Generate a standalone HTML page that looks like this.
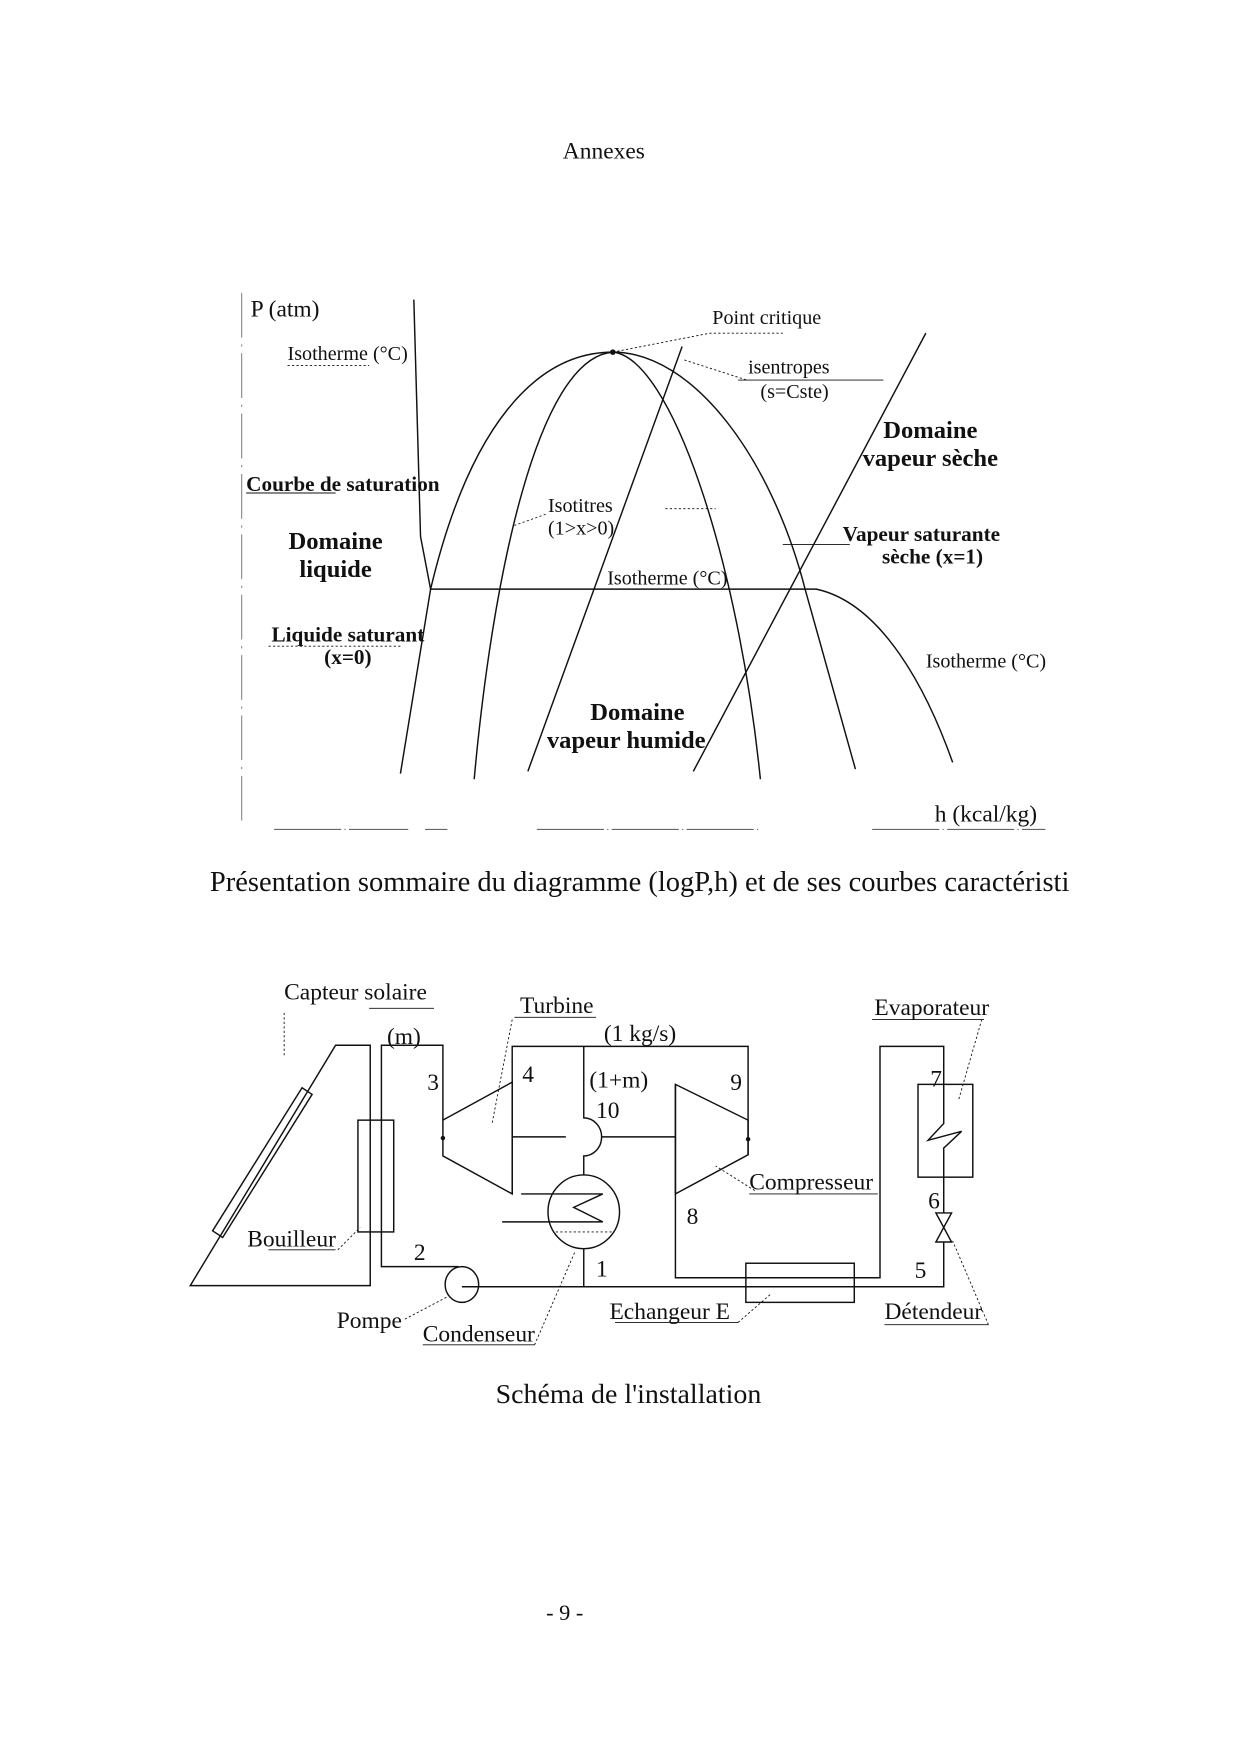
<!DOCTYPE html>
<html><head><meta charset="utf-8"><style>
html,body{margin:0;padding:0;background:#fff;}
svg{display:block}
text{font-family:"Liberation Serif",serif;fill:#111}
.b{font-weight:bold}
</style></head><body>
<svg width="1248" height="1754" viewBox="0 0 1116 1569" xmlns="http://www.w3.org/2000/svg">
<text x="540" y="142" font-size="21" text-anchor="middle">Annexes</text>

<!-- Chart -->
<g stroke="#111" fill="none" stroke-width="1.3">
<line x1="216" y1="262" x2="216" y2="740" stroke="#888" stroke-width="1" stroke-dasharray="40 6 2 6"/>
<path d="M245,742 H365 M380,742 H400 M480,742 H680 M780,742 H935" stroke="#666" stroke-width="1" stroke-dasharray="60 3 1 3"/>
<path d="M358,692 L385,527 C420,380 480,315 548,315 C620,315 690,410 720,527 L765,688"/>
<path d="M424,697 C440,520 480,320 548,315 C600,320 660,500 680,697"/>
<path d="M370,268 L376,480 L385,527 L730,527 C790,540 830,620 852,682"/>
<line x1="472" y1="690" x2="610" y2="310"/>
<line x1="620" y1="690" x2="828" y2="298"/>
<g stroke-width="0.8" stroke-dasharray="2 2">
<path d="M548,315 L635,298 H700"/>
<path d="M612,322 L668,340"/>
<path d="M488,460 L460,470"/>
<path d="M595,455 H640"/>
<path d="M257,327 H330"/>
<path d="M240,578 H360"/>
</g>
<path d="M660,340 H790" stroke-width="0.8"/>
<path d="M700,487 H760" stroke-width="0.8"/>
<path d="M220,441 H300" stroke-width="0.8"/>
</g>
<circle cx="548" cy="315" r="2.5" fill="#111"/>
<text x="224" y="283" font-size="21">P (atm)</text>
<text x="257" y="322" font-size="18">Isotherme (°C)</text>
<text x="637" y="290" font-size="18">Point critique</text>
<text x="669" y="334" font-size="18">isentropes</text>
<text x="680" y="356" font-size="18">(s=Cste)</text>
<text x="832" y="392" font-size="22" class="b" text-anchor="middle">Domaine</text>
<text x="832" y="417" font-size="22" class="b" text-anchor="middle">vapeur sèche</text>
<text x="220" y="439" font-size="19" class="b">Courbe de saturation</text>
<text x="490" y="458" font-size="18">Isotitres</text>
<text x="490" y="478" font-size="18">(1&gt;x&gt;0)</text>
<text x="300" y="491" font-size="22" class="b" text-anchor="middle">Domaine</text>
<text x="300" y="516" font-size="22" class="b" text-anchor="middle">liquide</text>
<text x="824" y="484" font-size="19" class="b" text-anchor="middle">Vapeur saturante</text>
<text x="834" y="504" font-size="19" class="b" text-anchor="middle">sèche (x=1)</text>
<text x="543" y="523" font-size="18">Isotherme (°C)</text>
<text x="311" y="574" font-size="19" class="b" text-anchor="middle">Liquide saturant</text>
<text x="311" y="594" font-size="19" class="b" text-anchor="middle">(x=0)</text>
<text x="828" y="597" font-size="18">Isotherme (°C)</text>
<text x="570" y="644" font-size="22" class="b" text-anchor="middle">Domaine</text>
<text x="560" y="669" font-size="22" class="b" text-anchor="middle">vapeur humide</text>
<text x="836" y="735" font-size="21">h (kcal/kg)</text>
<text x="572" y="797" font-size="25.5" text-anchor="middle">Présentation sommaire du diagramme (logP,h) et de ses courbes caractéristi</text>

<!-- Schematic -->
<g stroke="#111" fill="none" stroke-width="1.3">
<path d="M170,1150 L300,935 H331 V1150 Z"/>
<polygon points="270,973 279,979 199,1107 190,1101"/>
<path d="M410,1133 H341 V935 H396 V1002"/>
<rect x="320" y="1002" width="32" height="100"/>
<ellipse cx="413" cy="1149" rx="15" ry="16"/>
<path d="M413,1151 H844 V1111"/>
<path d="M604,970 V1143 H787 V936 H844 V970"/>
<rect x="667" y="1130" width="97" height="35"/>
<ellipse cx="522" cy="1084" rx="32" ry="33"/>
<path d="M522,1117 V1151"/>
<path d="M466,1068 H539 L513,1080 L539,1093 H449"/>
<path d="M497,1102 H547" stroke-dasharray="2 2" stroke-width="0.8"/>
<path d="M522,1051 V1034 A16,17 0 0 0 522,1000 V936"/>
<path d="M458,1068 V936 H669 V1033"/>
<path d="M458,1017 H506 M538,1017 H604"/>
<polygon points="396,1002 458,968 458,1068 396,1034"/>
<polygon points="604,970 669,1002 669,1033 604,1068"/>
<rect x="821" y="970" width="49" height="83"/>
<path d="M844,970 V1005 L830,1020 L860,1012 L844,1027 V1053"/>
<path d="M844,1053 V1085"/>
<polygon points="837,1085 851,1085 844,1098"/>
<polygon points="837,1111 851,1111 844,1098"/>
<g stroke-width="0.8" stroke-dasharray="2 2">
<path d="M254,906 V945"/>
<path d="M458,912 L440,1005"/>
<path d="M878,912 L857,985"/>
<path d="M675,1065 L640,1043"/>
<path d="M302,1118 L322,1098"/>
<path d="M362,1180 L400,1160"/>
<path d="M478,1203 L514,1120"/>
<path d="M660,1183 L690,1157"/>
<path d="M884,1185 L852,1110"/>
</g>
<g stroke-width="0.8">
<path d="M330,902 H388"/>
<path d="M460,910 H533"/>
<path d="M780,912 H880"/>
<path d="M670,1068 H785"/>
<path d="M240,1118 H300"/>
<path d="M378,1203 H478"/>
<path d="M550,1183 H660"/>
<path d="M791,1185 H884"/>
</g>
</g>
<circle cx="396" cy="1018" r="2" fill="#111"/>
<circle cx="669" cy="1019" r="2" fill="#111"/>
<g font-size="21">
<text x="254" y="894">Capteur solaire</text>
<text x="465" y="906">Turbine</text>
<text x="540" y="931">(1 kg/s)</text>
<text x="346" y="934">(m)</text>
<text x="782" y="908">Evaporateur</text>
<text x="382" y="975">3</text>
<text x="467" y="968">4</text>
<text x="527" y="973">(1+m)</text>
<text x="653" y="975">9</text>
<text x="533" y="1000">10</text>
<text x="614" y="1095">8</text>
<text x="670" y="1064">Compresseur</text>
<text x="832" y="972">7</text>
<text x="830" y="1081">6</text>
<text x="818" y="1143">5</text>
<text x="370" y="1127">2</text>
<text x="533" y="1142">1</text>
<text x="221" y="1115">Bouilleur</text>
<text x="301" y="1188">Pompe</text>
<text x="378" y="1200">Condenseur</text>
<text x="545" y="1180">Echangeur E</text>
<text x="791" y="1180">Détendeur</text>
</g>
<text x="562" y="1255" font-size="25" text-anchor="middle">Schéma de l'installation</text>
<text x="505" y="1449" font-size="20" text-anchor="middle">- 9 -</text>
</svg>
</body></html>
